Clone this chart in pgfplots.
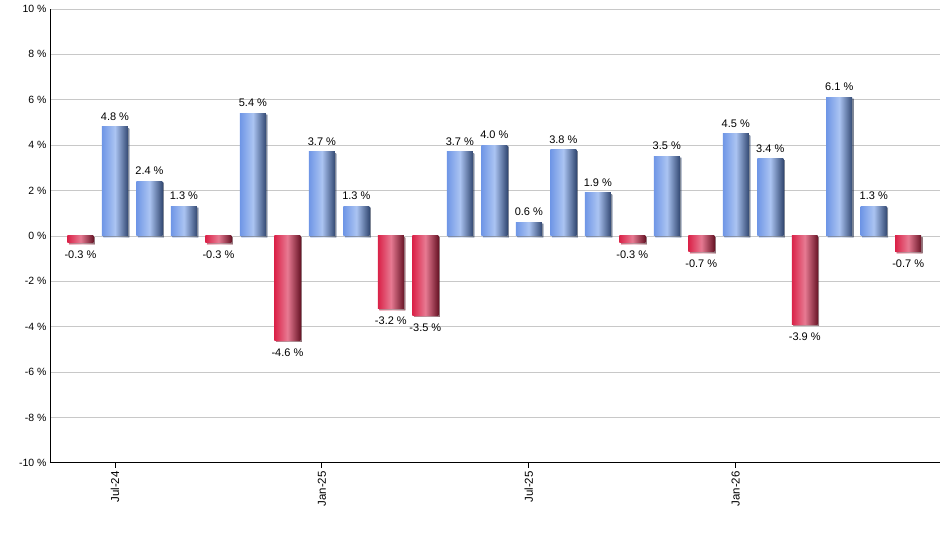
\documentclass[border=0pt]{standalone}
\usepackage{pgfplots}
\pgfplotsset{compat=1.18}
\usetikzlibrary{shadows}
\usepackage{fontspec}
\setmainfont{Liberation Sans}
\definecolor{blA}{HTML}{6F96E6}
\definecolor{blB}{HTML}{ABC4F2}
\definecolor{blC}{HTML}{344A74}
\definecolor{rdA}{HTML}{DA2248}
\definecolor{rdB}{HTML}{E77A92}
\definecolor{rdC}{HTML}{6A1628}
\definecolor{gridc}{HTML}{C8C8C8}
\pgfplotstableread{
x y
0 -0.3
1 4.8
2 2.4
3 1.3
4 -0.3
5 5.4
6 -4.6
7 3.7
8 1.3
9 -3.2
10 -3.5
11 3.7
12 4.0
13 0.6
14 3.8
15 1.9
16 -0.3
17 3.5
18 -0.7
19 4.5
20 3.4
21 -3.9
22 6.1
23 1.3
24 -0.7
}\returns
\begin{document}
\begin{tikzpicture}
\path (0,0) rectangle (940pt,550pt);
\begin{axis}[
  at={(50pt,87pt)}, anchor=south west,
  scale only axis, width=890pt, height=454pt,
  xmin=-0.884, xmax=24.91, ymin=-10, ymax=10,
  ytick={-10,-8,...,10},
  yticklabels={-10 \%,-8 \%,-6 \%,-4 \%,-2 \%,0 \%,2 \%,4 \%,6 \%,8 \%,10 \%},
  xtick={1,7,13,19},
  xticklabels={Jul-24,Jan-25,Jul-25,Jan-26},
  xticklabel style={rotate=90, anchor=east, font=\fontsize{11.5}{13}\selectfont},
  yticklabel style={font=\fontsize{10.5}{13}\selectfont, xshift=5pt},
  separate axis lines,
  axis x line*=bottom, axis y line*=left,
  axis line style={black, -, line width=0.8pt},
  tick align=outside,
  major tick length=5pt,
  ytick style={draw=none},
  xtick style={black, line width=0.8pt},
  ymajorgrids, grid style={gridc, line width=0.8pt},
  ybar, bar width=26pt,
  point meta=explicit symbolic,
  nodes near coords={\pgfplotspointmeta~\%},
  nodes near coords style={font=\fontsize{11}{13}\selectfont, black},
  clip=false,
]
\pgfplotsinvokeforeach{1,2,3,5,7,8,11,12,13,14,15,17,19,20,22,23}{
\addplot[bar shift=0pt, draw=none, drop shadow={shadow xshift=1.5pt, shadow yshift=-1.5pt, fill=black, opacity=0.35},
  left color=blA, right color=blC, middle color=blB,
  nodes near coords align={above},
  every node near coord/.append style={yshift=3pt},
  x filter/.expression={abs(x-#1)<0.1 ? x : nan}] table[x=x, y=y, meta=y] {\returns};
}
\pgfplotsinvokeforeach{0,4,6,9,10,16,18,21,24}{
\addplot[bar shift=0pt, draw=none, drop shadow={shadow xshift=1.5pt, shadow yshift=-1.5pt, fill=black, opacity=0.35},
  left color=rdA, right color=rdC, middle color=rdB,
  nodes near coords align={below},
  every node near coord/.append style={yshift=-5pt},
  x filter/.expression={abs(x-#1)<0.1 ? x : nan}] table[x=x, y=y, meta=y] {\returns};
}
\end{axis}
\end{tikzpicture}
\end{document}
